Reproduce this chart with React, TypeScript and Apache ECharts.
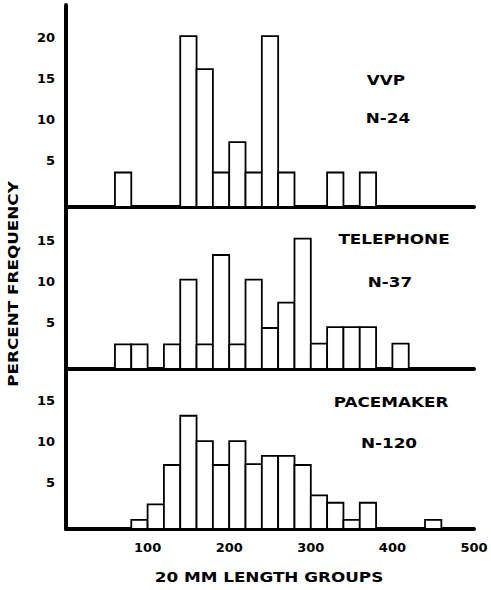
import React, { useEffect, useRef } from "react";
import * as echarts from "echarts";

const BIN_WIDTH = 20;
const vvpStarts = [60, 140, 160, 180, 200, 220, 240, 260, 320, 360];
const vvpValues = [4.2, 20.8, 16.8, 4.2, 7.9, 4.2, 20.8, 4.2, 4.2, 4.2];
const telStarts = [60, 80, 120, 140, 160, 180, 200, 220, 240, 260, 280, 300, 320, 340, 360, 400];
const telValues = [3.0, 3.0, 3.0, 10.9, 3.0, 13.9, 3.0, 10.9, 5.0, 8.1, 15.9, 3.1, 5.1, 5.1, 5.1, 3.1];
const paceStarts = [80, 100, 120, 140, 160, 180, 200, 220, 240, 260, 280, 300, 320, 340, 360, 440];
const paceValues = [1.1, 3.0, 7.8, 13.8, 10.7, 7.8, 10.7, 7.9, 8.9, 8.9, 7.8, 4.1, 3.2, 1.1, 3.2, 1.1];
const panelNames = ["VVP", "TELEPHONE", "PACEMAKER"];
const panelCounts = ["N-24", "N-37", "N-120"];
const xTickLabels = ["100", "200", "300", "400", "500"];
const yTickLabels = ["5", "10", "15", "20"];
const xAxisTitle = "20 MM LENGTH GROUPS";
const yAxisTitle = "PERCENT FREQUENCY";

const FONT = "'DejaVu Sans', 'Liberation Sans', sans-serif";

export default function App() {
  const ref = useRef<HTMLDivElement>(null);
  useEffect(() => {
    if (!ref.current) return;
    const chart = echarts.init(ref.current, undefined, { renderer: "svg" });
    const starts = [vvpStarts, telStarts, paceStarts];
    const values = [vvpValues, telValues, paceValues];
    const grids = [
      { left: 66, top: 5, width: 408, height: 202 },
      { left: 66, top: 207, width: 408, height: 162 },
      { left: 66, top: 369, width: 408, height: 160 },
    ];
    const yMax = [24.6, 19.75, 19.5];
    const renderItem = (params: any, api: any) => {
      const x0 = api.value(0);
      const v = api.value(1);
      const p0 = api.coord([x0, 0]);
      const p1 = api.coord([x0 + BIN_WIDTH, v]);
      return {
        type: "rect",
        shape: { x: p0[0], y: p1[1], width: p1[0] - p0[0], height: p0[1] - p1[1] },
        style: { fill: "#fff", stroke: "#000", lineWidth: 1.8 },
      };
    };
    const titleY = [[80, 118], [239, 282], [402, 443]];
    const titleX = [[386, 388], [394, 390], [391, 389]];
    const graphic: any[] = [];
    panelNames.forEach((name, i) => {
      graphic.push({
        type: "text", x: titleX[i][0], y: titleY[i][0], scaleX: 1.2,
        style: { text: name, fill: "#000", font: `bold 14px ${FONT}`, textAlign: "center", textVerticalAlign: "middle" },
      });
      graphic.push({
        type: "text", x: titleX[i][1], y: titleY[i][1], scaleX: 1.2,
        style: { text: panelCounts[i], fill: "#000", font: `bold 14px ${FONT}`, textAlign: "center", textVerticalAlign: "middle" },
      });
    });
    graphic.push({
      type: "text", x: 269, y: 577, scaleX: 1.2,
      style: { text: xAxisTitle, fill: "#000", font: `bold 14px ${FONT}`, textAlign: "center", textVerticalAlign: "middle" },
    });
    graphic.push({
      type: "text", x: 13, y: 284, rotation: Math.PI / 2, scaleX: 1.2,
      style: { text: yAxisTitle, fill: "#000", font: `bold 14px ${FONT}`, textAlign: "center", textVerticalAlign: "middle" },
    });

    chart.setOption({
      animation: false,
      backgroundColor: "#fff",
      grid: grids,
      xAxis: grids.map((_, i) => ({
        type: "value",
        gridIndex: i,
        min: 0,
        max: 500,
        interval: 100,
        axisLine: { show: true, lineStyle: { color: "#000", width: 4 } },
        axisTick: { show: false },
        splitLine: { show: false },
        axisLabel: {
          show: i === 2,
          margin: 12,
          color: "#000",
          fontFamily: FONT,
          fontWeight: "bold",
          fontSize: 13,
          formatter: (v: number) => (xTickLabels.includes(String(v)) ? String(v) : ""),
        },
      })),
      yAxis: grids.map((_, i) => ({
        type: "value",
        gridIndex: i,
        min: 0,
        max: yMax[i],
        interval: 5,
        axisLine: { show: true, lineStyle: { color: "#000", width: 4 } },
        axisTick: { show: false },
        splitLine: { show: false },
        axisLabel: {
          margin: 11,
          color: "#000",
          fontFamily: FONT,
          fontWeight: "bold",
          fontSize: 13,
          verticalAlign: "bottom",
          lineHeight: 11,
          formatter: (v: number) => (yTickLabels.includes(String(v)) ? String(v) : ""),
        },
      })),
      series: grids.map((_, i) => ({
        type: "custom",
        xAxisIndex: i,
        yAxisIndex: i,
        renderItem,
        data: starts[i].map((s, j) => [s, values[i][j]]),
        z: 1,
      })),
      graphic,
    });
    return () => chart.dispose();
  }, []);
  return <div ref={ref} style={{ position: "absolute", left: 0, top: 0, width: 491, height: 590 }} />;
}
